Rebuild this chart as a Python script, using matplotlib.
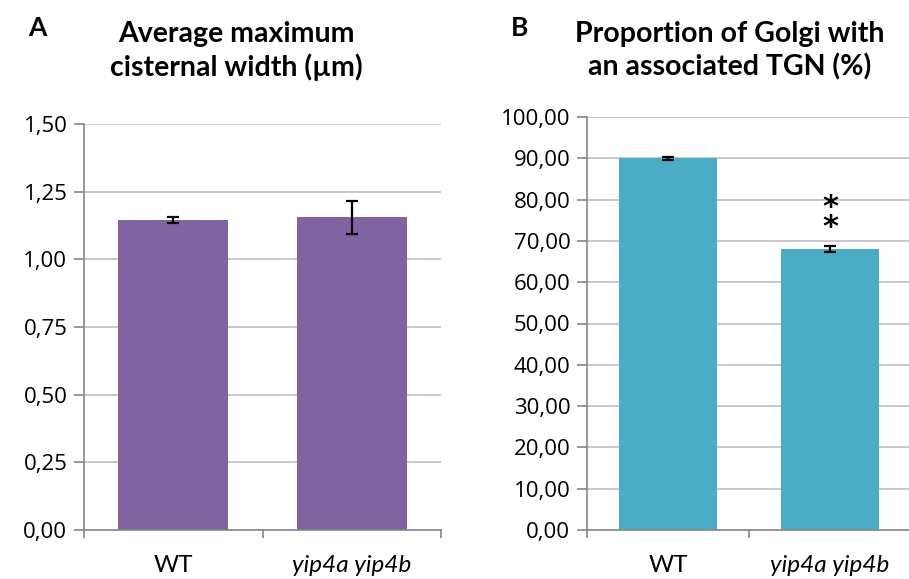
import matplotlib
matplotlib.use("Agg")
import matplotlib.pyplot as plt
import numpy as np

categories = ["WT", "yip4a yip4b"]
width_vals = [1.145, 1.155]
width_err = [0.012, 0.06]
tgn_vals = [90.0, 68.0]
tgn_err = [0.3, 0.8]
left_ticks = [0.0, 0.25, 0.5, 0.75, 1.0, 1.25, 1.5]
right_ticks = [0, 10, 20, 30, 40, 50, 60, 70, 80, 90, 100]

plt.rcParams['font.family'] = ['Lato', 'DejaVu Sans']
W, H = 909, 579
fig = plt.figure(figsize=(W/100, H/100), dpi=100)

def ax_rect(x0, x1, ytop, ybot):
    return [x0/W, 1-ybot/H, (x1-x0)/W, (ybot-ytop)/H]

spine_c = "#868686"
grid_c = "#BFBFBF"

def style(ax, ticks, fmt, ymax):
    ax.set_ylim(0, ymax)
    ax.set_xlim(-0.5, 1.5)
    ax.set_yticks(ticks)
    ax.set_yticklabels([fmt(t).replace('.', ',') for t in ticks], fontsize=16,
                       family=['Open Sans', 'DejaVu Sans'])
    ax.yaxis.grid(True, color=grid_c, linewidth=1.2)
    ax.set_axisbelow(True)
    for s in ['top', 'right']:
        ax.spines[s].set_visible(False)
    for s in ['left', 'bottom']:
        ax.spines[s].set_color(spine_c)
        ax.spines[s].set_linewidth(1.2)
    ax.tick_params(axis='y', color=spine_c, length=7, width=1.2, pad=5)
    ax.set_xticks([-0.5, 0.5, 1.5])
    ax.set_xticklabels([])
    ax.tick_params(axis='x', color=spine_c, length=6, width=1.2)
    ax.set_xticks([0, 1], minor=True)
    ax.set_xticklabels(categories, minor=True, fontsize=17.5)
    ax.tick_params(axis='x', which='minor', length=0, pad=18)
    for lab in ax.get_xticklabels(minor=True):
        if lab.get_text() != "WT":
            lab.set_style('italic')

x = np.arange(len(categories))
ekw = dict(ecolor='black', elinewidth=1.6, capsize=4.3, capthick=1.6)

ax1 = fig.add_axes(ax_rect(84, 441, 124, 530))
ax1.bar(x, width_vals, width=0.615, color="#8064A2", yerr=width_err, error_kw=ekw)
style(ax1, left_ticks, lambda t: f"{t:.2f}", 1.5)

ax2 = fig.add_axes(ax_rect(587, 911, 117, 530))
ax2.bar(x, tgn_vals, width=0.6, color="#4BACC6", yerr=tgn_err, error_kw=ekw)
style(ax2, right_ticks, lambda t: f"{t:.2f}", 100)
ax2.text(1, tgn_vals[1] + 7.6, "*\n*", ha='center', va='center', fontsize=22,
         fontweight='bold', family='DejaVu Sans', linespacing=0.62)

fig.text(37/W, 1-28/H, "A", fontsize=19, fontweight='bold', ha='center', va='center')
fig.text(236/W, 1-51/H, "Average maximum\ncisternal width (µm)", fontsize=20.5,
         fontweight='bold', ha='center', va='center', linespacing=1.3)
fig.text(520/W, 1-28/H, "B", fontsize=19, fontweight='bold', ha='center', va='center')
fig.text(730/W, 1-51/H, "Proportion of Golgi with\nan associated TGN (%)", fontsize=20.5,
         fontweight='bold', ha='center', va='center', linespacing=1.3)

fig.savefig("out.png", dpi=100)
